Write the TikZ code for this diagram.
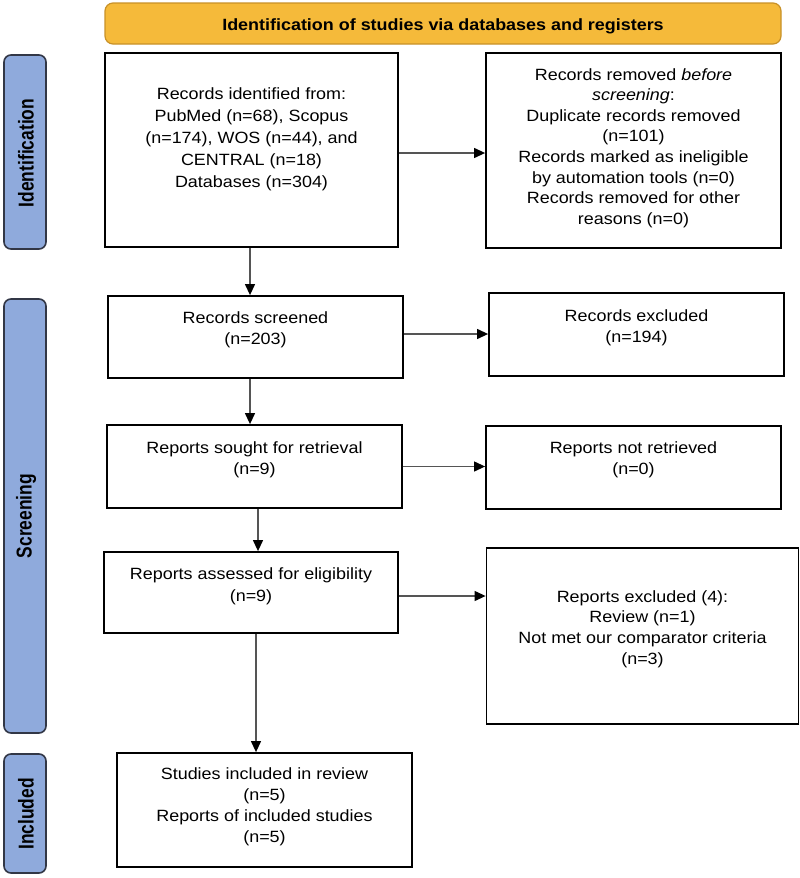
\documentclass[tikz,border=0pt]{standalone}
\usepackage{fontspec}
\setmainfont{Liberation Sans}
\usepackage{graphicx}
\usetikzlibrary{arrows.meta}

\definecolor{hdrfill}{RGB}{245,186,58}
\definecolor{hdrdraw}{RGB}{200,145,40}
\definecolor{barfill}{RGB}{143,170,220}
\definecolor{bardraw}{RGB}{50,55,70}
\definecolor{arrcol}{RGB}{85,85,85}

\newcommand{\boxtext}[2][21]{\fontsize{16.3}{#1}\selectfont\scalebox{1.1}[1]{\begin{tabular}[t]{@{}c@{}}#2\end{tabular}}}
\newcommand{\sidetext}[1]{\fontsize{21.5}{24}\selectfont\bfseries\scalebox{0.81}[1]{#1}}

\tikzset{
  frame/.style={draw=black, line width=1.8pt, fill=white, rectangle, inner sep=0pt},
  bar/.style={draw=bardraw, line width=1.6pt, fill=barfill, rounded corners=7pt, inner sep=0pt, minimum width=42pt},
  hdr/.style={draw=hdrdraw, line width=1.2pt, fill=hdrfill, rounded corners=8pt, inner sep=0pt},
  txt/.style={inner sep=0pt, anchor=base},
  side/.style={inner sep=0pt, rotate=90},
  arr/.style={draw=arrcol, line width=1.2pt, -{Triangle[length=11pt,width=10pt,color=black]}}
}

\begin{document}
\begin{tikzpicture}[x=1pt,y=-1pt]
\useasboundingbox (0,0) rectangle (800,878);

% header
\node[hdr, minimum width=676pt, minimum height=41pt] (hd) at (443,23.5) {};
\node[txt] (hdt) at (443,30) {\fontsize{16.3}{20}\selectfont\bfseries\scalebox{1.1}[1]{Identification of studies via databases and registers}};

% side bars
\node[bar, minimum height=194pt] (s1) at (25,152) {};
\node[side] (l1) at (26,153) {\sidetext{Identification}};
\node[bar, minimum height=434pt] (s2) at (25,516) {};
\node[side] (l2) at (26,516) {\sidetext{Screening}};
\node[bar, minimum height=119pt] (s3) at (25,813.5) {};
\node[side] (l3) at (26,814) {\sidetext{Included}};

% boxes
\node[frame, minimum width=293pt, minimum height=194pt] (b1) at (251.5,150) {};
\node[frame, minimum width=295pt, minimum height=195pt] (b2) at (633.5,150.5) {};
\node[frame, minimum width=295pt, minimum height=82pt] (b3) at (255.5,337) {};
\node[frame, minimum width=295pt, minimum height=83pt] (b4) at (636.5,334.5) {};
\node[frame, minimum width=295pt, minimum height=83pt] (b5) at (254.5,466.5) {};
\node[frame, minimum width=295pt, minimum height=83pt] (b6) at (633.5,467.5) {};
\node[frame, minimum width=294pt, minimum height=81pt] (b7) at (251,592.5) {};
\node[frame, minimum width=312pt, minimum height=176pt] (b8) at (642.5,636) {};
\node[frame, minimum width=295pt, minimum height=114pt] (b9) at (264.5,810) {};

% texts
\node[txt] (t1) at (251.5,99) {\boxtext[22.2]{Records identified from:\\PubMed (n=68), Scopus\\(n=174), WOS (n=44), and\\CENTRAL (n=18)\\Databases (n=304)}};
\node[txt] (t2) at (633.5,80) {\boxtext[20.6]{Records removed \emph{before}\\\emph{screening}:\\Duplicate records removed\\(n=101)\\Records marked as ineligible\\by automation tools (n=0)\\Records removed for other\\reasons (n=0)}};
\node[txt] (t3) at (255.5,323) {\boxtext{Records screened\\(n=203)}};
\node[txt] (t4) at (636.5,321) {\boxtext{Records excluded\\(n=194)}};
\node[txt] (t5) at (254.5,453) {\boxtext{Reports sought for retrieval\\(n=9)}};
\node[txt] (t6) at (633.5,453) {\boxtext{Reports not retrieved\\(n=0)}};
\node[txt] (t7) at (251,579) {\boxtext[22]{Reports assessed for eligibility\\(n=9)}};
\node[txt] (t8) at (642.5,602) {\boxtext[20.7]{Reports excluded (4):\\Review (n=1)\\Not met our comparator criteria\\(n=3)}};
\node[txt] (t9) at (264.5,779) {\boxtext{Studies included in review\\(n=5)\\Reports of included studies\\(n=5)}};

% horizontal arrows
\coordinate (a12) at ([yshift=-3pt]b1.east);
\draw[arr] (a12) -- (a12 -| b2.west);
\coordinate (a34) at ([yshift=3pt]b3.east);
\draw[arr] (a34) -- (a34 -| b4.west);
\coordinate (a56) at (b5.east);
\draw[arr] (a56) -- (a56 -| b6.west);
\coordinate (a78) at ([yshift=-3.5pt]b7.east);
\draw[arr] (a78) -- (a78 -| b8.west);

% vertical arrows
\coordinate (v13) at ([xshift=-1.5pt]b1.south);
\draw[arr] (v13) -- (v13 |- b3.north);
\coordinate (v35) at ([xshift=-5.5pt]b3.south);
\draw[arr] (v35) -- (v35 |- b5.north);
\coordinate (v57) at ([xshift=3.5pt]b5.south);
\draw[arr] (v57) -- (v57 |- b7.north);
\coordinate (v79) at ([xshift=5pt]b7.south);
\draw[arr] (v79) -- (v79 |- b9.north);
\end{tikzpicture}
\end{document}
